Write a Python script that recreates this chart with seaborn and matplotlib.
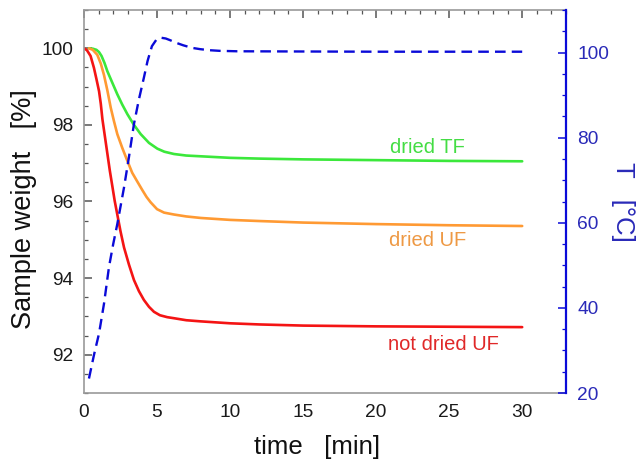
import matplotlib
matplotlib.use("Agg")
import matplotlib.pyplot as plt
import seaborn as sns
import pandas as pd
from matplotlib.ticker import MultipleLocator

# ---- data ----
time_red = [0, 0.2, 0.45, 0.68, 0.85, 1.03, 1.15, 1.26, 1.43, 1.6, 1.77, 1.94, 2.1, 2.28,
            2.5, 2.74, 3.08, 3.42, 3.76, 4.1, 4.45, 4.79, 5.2, 5.7, 6.2, 7, 8, 10, 12, 15,
            20, 25, 30]
weight_red = [100, 99.95, 99.8, 99.49, 99.2, 98.88, 98.55, 98.15, 97.7, 97.25, 96.8, 96.4,
              96.02, 95.66, 95.22, 94.8, 94.35, 93.95, 93.66, 93.43, 93.25, 93.12, 93.03,
              92.98, 92.95, 92.9, 92.87, 92.82, 92.79, 92.76, 92.74, 92.73, 92.72]

time_green = [0.34, 0.6, 0.85, 1.03, 1.2, 1.4, 1.6, 1.94, 2.28, 2.62, 2.97, 3.42, 3.88,
              4.45, 5.02, 5.5, 6.16, 7, 8, 10, 12, 15, 20, 25, 30]
weight_green = [100.0, 99.99, 99.96, 99.9, 99.8, 99.62, 99.4, 99.1, 98.8, 98.53, 98.28,
                98.0, 97.76, 97.53, 97.38, 97.3, 97.24, 97.2, 97.18, 97.14, 97.12, 97.1,
                97.08, 97.06, 97.05]

time_orange = [0.34, 0.6, 0.91, 1.15, 1.37, 1.6, 1.83, 2.05, 2.28, 2.62, 2.97, 3.3, 3.65,
               3.99, 4.28, 4.56, 5.0, 5.48, 6.16, 7, 8, 10, 12, 15, 20, 25, 30]
weight_orange = [100, 99.96, 99.83, 99.6, 99.3, 98.9, 98.45, 98.1, 97.76, 97.4, 97.06,
                 96.75, 96.52, 96.3, 96.12, 95.98, 95.8, 95.71, 95.66, 95.61, 95.57, 95.52,
                 95.49, 95.45, 95.41, 95.38, 95.36]

time_temp = [0.34, 0.68, 1.03, 1.37, 1.71, 2.0, 2.28, 2.74, 3.08, 3.42, 3.76, 4.1, 4.35,
             4.65, 4.95, 5.25, 5.6, 5.9, 6.3, 6.8, 7.4, 7.95, 8.6, 9.3, 10.5, 15, 20, 25, 30]
temp_c = [23.4, 28.9, 34.0, 41.0, 49.6, 55.0, 59.7, 68.3, 75.5, 83.2, 89.0, 94.1, 98.0,
          101.5, 103.0, 103.5, 103.3, 102.9, 102.3, 101.7, 101.1, 100.8, 100.55, 100.4,
          100.3, 100.25, 100.2, 100.2, 100.2]

labels = ["dried TF", "dried UF", "not dried UF"]
label_pos_t = [20.95, 20.9, 20.8]
label_pos_w = [97.4, 94.97, 92.27]

# ---- styling ----
sns.set_theme(style="white")
plt.rcParams['font.family'] = ['Liberation Sans', 'DejaVu Sans']

c_green, c_orange, c_red, c_blue = "#3be83b", "#ff9a33", "#f41414", "#0a0ad8"
t_green, t_orange, t_red, t_blue = "#44dd44", "#ee9944", "#e02828", "#2a2ab8"

fig = plt.figure(figsize=(6.41, 4.66), dpi=100)
ax = fig.add_axes([84/641, 73/466, 482/641, 383/466])

df_r = pd.DataFrame({"t": time_red, "w": weight_red})
df_g = pd.DataFrame({"t": time_green, "w": weight_green})
df_o = pd.DataFrame({"t": time_orange, "w": weight_orange})
df_T = pd.DataFrame({"t": time_temp, "T": temp_c})

sns.lineplot(data=df_g, x="t", y="w", ax=ax, color=c_green, linewidth=1.9, estimator=None, sort=False)
sns.lineplot(data=df_o, x="t", y="w", ax=ax, color=c_orange, linewidth=1.9, estimator=None, sort=False)
sns.lineplot(data=df_r, x="t", y="w", ax=ax, color=c_red, linewidth=1.9, estimator=None, sort=False)

for txt, tx, wy, col in zip(labels, label_pos_t, label_pos_w, [t_green, t_orange, t_red]):
    ax.text(tx, wy, txt, color=col, fontsize=14.5, va="center", ha="left")

ax.set_xlim(0, 33)
ax.set_ylim(91, 101)
ax.xaxis.set_major_locator(MultipleLocator(5))
ax.xaxis.set_minor_locator(MultipleLocator(1))
ax.yaxis.set_major_locator(MultipleLocator(2))
ax.yaxis.set_minor_locator(MultipleLocator(0.5))
ax.set_xticks([0, 5, 10, 15, 20, 25, 30])
ax.grid(False)

for s in ["left", "bottom", "top"]:
    ax.spines[s].set_color("#9a9a9a")
    ax.spines[s].set_linewidth(1.2)
ax.spines["right"].set_visible(False)

ax.tick_params(axis="both", which="both", direction="in", top=True, right=False,
               color="#555555", labelcolor="#1a1a1a", labelsize=13.8)
ax.tick_params(axis="both", which="major", length=6, width=1.1, pad=8)
ax.tick_params(axis="both", which="minor", length=3, width=0.9)

ax.set_xlabel("time   [min]", fontsize=18.5, color="#111111")
ax.xaxis.set_label_coords(0.484, -0.141)
ax.xaxis.label.set_va("center")
ax.set_ylabel("Sample weight   [%]", fontsize=19.5, color="#111111")
ax.yaxis.set_label_coords(-0.124, 0.48)
ax.yaxis.label.set_va("center")

# ---- temperature on twin axis ----
ax2 = ax.twinx()
sns.lineplot(data=df_T, x="t", y="T", ax=ax2, color=c_blue, linewidth=1.7,
             linestyle=(0, (4.5, 2.6)), estimator=None, sort=False)
ax2.set_ylim(20, 110)
ax2.yaxis.set_major_locator(MultipleLocator(20))
ax2.yaxis.set_minor_locator(MultipleLocator(5))
ax2.grid(False)
for s in ["left", "bottom", "top"]:
    ax2.spines[s].set_visible(False)
ax2.spines["right"].set_color(c_blue)
ax2.spines["right"].set_linewidth(1.6)
ax2.tick_params(axis="y", which="both", direction="in", color=c_blue,
                labelcolor=t_blue, labelsize=13.8)
ax2.tick_params(axis="y", which="major", length=6, width=1.1, pad=8)
ax2.tick_params(axis="y", which="minor", length=3, width=0.9)
ax2.set_ylabel("T   [°C]", fontsize=18.5, color=t_blue, rotation=-90)
ax2.yaxis.set_label_coords(1.118, 0.50)
ax2.yaxis.label.set_va("center")

fig.savefig("out.png", dpi=100)
